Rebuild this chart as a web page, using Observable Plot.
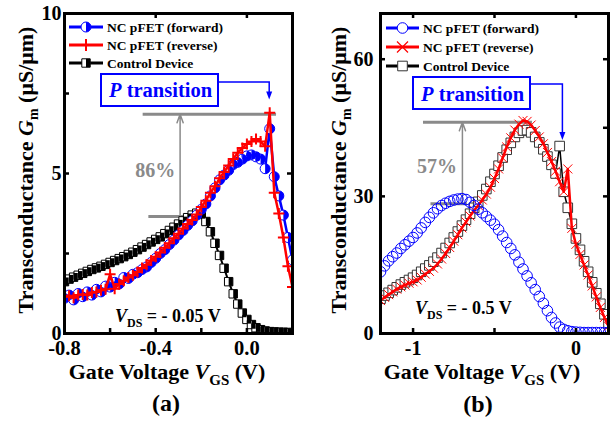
<!DOCTYPE html>
<html><head><meta charset="utf-8">
<script src="https://cdn.jsdelivr.net/npm/d3@7"></script>
<script src="https://cdn.jsdelivr.net/npm/@observablehq/plot@0.6"></script>
<style>
body{margin:0;background:#fff;}
#wrap{display:flex;width:616px;height:426px;}
#wrap svg{display:block;flex:none;}
</style></head><body><div id="wrap"></div>
<script>
// ---------- data: panel (a), VDS = -0.05 V ----------
const vA = [-0.80,-0.78,-0.76,-0.74,-0.72,-0.70,-0.68,-0.66,-0.64,-0.62,
  -0.60,-0.58,-0.56,-0.54,-0.52,-0.50,-0.48,-0.46,-0.44,-0.42,
  -0.40,-0.38,-0.36,-0.34,-0.32,-0.30,-0.28,-0.26,-0.24,-0.22,
  -0.20,-0.18,-0.16,-0.14,-0.12,-0.10,-0.08,-0.06,-0.04,-0.02,
  0.00,0.02,0.04,0.06,0.08,0.10,0.12,0.14,0.16,0.18,0.20];
const fwdA = [1.10,1.20,1.05,1.25,1.15,1.30,1.20,1.38,1.30,1.48,
  1.45,1.60,1.55,1.75,1.72,1.85,1.90,2.00,2.08,2.22,
  2.35,2.50,2.62,2.78,2.92,3.08,3.22,3.38,3.52,3.70,
  3.88,4.05,4.30,4.55,4.80,4.95,5.10,5.28,5.35,5.45,
  5.55,5.58,5.52,5.45,5.15,6.40,4.90,4.30,3.70,3.00,2.30];
const revA = [1.15,1.18,1.12,1.20,1.22,1.20,1.28,1.30,1.35,1.38,
  1.85,1.40,1.55,1.65,1.75,1.82,1.92,2.05,2.15,2.28,
  2.40,2.53,2.68,2.82,2.98,3.12,3.28,3.42,3.55,3.72,
  3.95,4.15,4.40,4.60,4.85,5.05,5.25,5.45,5.65,5.80,
  5.92,6.00,6.08,6.00,5.85,6.90,4.40,3.75,3.00,2.10,1.45];
const ctlA = [1.62,1.70,1.76,1.82,1.88,1.94,2.00,2.05,2.10,2.16,
  2.22,2.28,2.34,2.40,2.47,2.54,2.62,2.70,2.78,2.86,
  2.94,3.02,3.12,3.22,3.32,3.42,3.52,3.62,3.70,3.76,
  3.72,3.50,3.18,2.82,2.44,2.04,1.62,1.24,0.92,0.64,
  0.44,0.28,0.18,0.12,0.08,0.06,0.05,0.04,0.04,0.03,0.03];

// ---------- data: panel (b), VDS = -0.5 V ----------
const vB = [-1.2,-1.175,-1.15,-1.125,-1.1,-1.075,-1.05,-1.025,-1,-0.975,
  -0.95,-0.925,-0.9,-0.875,-0.85,-0.825,-0.8,-0.775,-0.75,-0.725,
  -0.7,-0.675,-0.65,-0.625,-0.6,-0.575,-0.55,-0.525,-0.5,-0.475,
  -0.45,-0.425,-0.4,-0.375,-0.35,-0.325,-0.3,-0.275,-0.25,-0.225,
  -0.2,-0.175,-0.15,-0.125,-0.1,-0.075,-0.05,-0.025,0,0.025,
  0.05,0.075,0.1,0.125,0.15,0.175,0.2];
const fwdB = [13.5,14.8,15.9,16.8,17.6,18.6,19.4,20.2,21.0,22.0,
  23.1,24.3,25.4,26.4,27.3,28.0,28.5,28.9,29.2,29.4,
  29.5,29.3,28.7,28.0,27.2,26.4,25.6,24.8,23.9,22.7,
  21.3,19.9,18.6,17.2,15.6,14.1,12.6,11.1,9.6,8.1,
  6.6,5.0,3.5,2.3,1.4,0.9,0.6,0.4,0.3,0.25,
  0.2,0.2,0.2,0.2,0.2,0.2,0.2];
const revB = [7.2,7.9,8.5,9.1,9.7,10.2,10.6,11.0,11.3,11.7,
  12.3,13.0,13.6,14.3,15.2,16.3,17.5,18.8,20.2,21.6,
  23.1,24.4,25.7,26.9,28.0,29.2,30.5,32.0,33.9,36.0,
  38.4,40.8,42.8,44.5,45.8,46.6,46.4,45.6,44.4,43.0,
  41.5,39.6,37.6,35.5,33.2,31.0,36.0,23.0,19.5,17.3,
  15.0,12.8,10.4,8.0,5.7,3.5,1.6];
const ctlB = [7.6,8.3,8.9,9.5,10.1,10.7,11.2,11.7,12.2,12.8,
  13.5,14.2,14.9,15.7,16.6,17.6,18.7,19.8,21.0,22.3,
  23.6,24.9,26.2,27.5,28.8,30.2,31.6,33.2,34.9,36.7,
  38.5,40.2,41.7,43.0,43.9,44.4,44.5,44.0,43.0,41.8,
  40.3,38.7,36.9,35.0,41.0,31.0,27.5,24.0,20.8,18.3,
  15.8,13.5,11.2,8.8,6.5,4.2,2.2];

// ---------- axes / labels ----------
const xDomA = [-0.8, 0.2], yDomA = [0, 10];
const xDomB = [-1.2, 0.2], yDomB = [0, 70];
const xTicksA = [-0.8, -0.4, 0.0], yTicksA = [0, 5, 10];
const xTicksB = [-1, 0], yTicksB = [0, 30, 60];
const xTickMarksA = [-0.6, -0.4, -0.2, 0.0], xTopMarksA = [-0.4, 0.0];
const yLeftMarksA = [2.5, 5, 7.5], yRightMarksA = [5];
const xTickMarksB = [-1, -0.5, 0], xTopMarksB = [-1, -0.5, 0];
const yLeftMarksB = [30, 60], yRightMarksB = [30, 45, 60];
const legendLabels = ["NC pFET (forward)", "NC pFET (reverse)", "Control Device"];
const annA = {top: 6.85, topX1: -0.455, topX2: 0.13, base: 3.66, baseX1: -0.43, baseX2: -0.25, arrowX: -0.293, label: "86%", pX: 0.10, pY: 7.3};
const annB = {top: 46.2, topX1: -0.936, topX2: -0.267, base: 28.4, baseX1: -0.89, baseX2: -0.666, arrowX: -0.697, label: "57%", pX: -0.08, pY: 42.2};

// ---------- styling ----------
const F = '"Liberation Serif","Times New Roman",serif';
const BLUE = "#0000ff", RED = "#ff0000", GRAY = "#8a8a8a";

const sqSym = h => ({draw(c){c.moveTo(-h,-h);c.lineTo(h,-h);c.lineTo(h,h);c.lineTo(-h,h);c.closePath();}});
const halfSqSym = h => ({draw(c){c.moveTo(0,-h);c.lineTo(h,-h);c.lineTo(h,h);c.lineTo(0,h);c.closePath();}});
const circSym = r => ({draw(c){c.moveTo(r,0);c.arc(0,0,r,0,2*Math.PI);c.closePath();}});
const halfCircSym = r => ({draw(c){c.moveTo(0,-r);c.arc(0,0,r,-Math.PI/2,Math.PI/2);c.closePath();}});
const plusSym = h => ({draw(c){c.moveTo(-h,0);c.lineTo(h,0);c.moveTo(0,-h);c.lineTo(0,h);}});
const timesSym = h => ({draw(c){c.moveTo(-h,-h);c.lineTo(h,h);c.moveTo(h,-h);c.lineTo(-h,h);}});

const table = (v, arr) => v.map((x, i) => ({v: x, g: arr[i]}));

function tickMarks(xb, xt, yl, yr) {
  const s = {stroke: "black", strokeWidth: 2.5};
  return [
    Plot.ruleX(xb, {...s, insetTop: 315}),
    Plot.ruleX(xt, {...s, insetBottom: 315}),
    Plot.ruleY(yl, {...s, insetRight: 223}),
    Plot.ruleY(yr, {...s, insetLeft: 223})
  ];
}
function annMarks(a) {
  return [
    Plot.ruleY([a], {y: "top", x1: "topX1", x2: "topX2", stroke: GRAY, strokeWidth: 3}),
    Plot.ruleY([a], {y: "base", x1: "baseX1", x2: "baseX2", stroke: GRAY, strokeWidth: 3}),
    Plot.arrow([a], {x1: "arrowX", x2: "arrowX", y1: "base", y2: "top", stroke: GRAY, strokeWidth: 1.5, headLength: 9, headAngle: 40})
  ];
}

function richText(sel, x, y, parts, o) {
  const t = sel.append("text").attr("x", x).attr("y", y)
    .attr("font-family", F).attr("font-weight", "bold")
    .attr("font-size", o.size).attr("text-anchor", o.anchor || "start")
    .attr("fill", o.fill || "black").style("white-space", "pre");
  if (o.rotate) t.attr("transform", `rotate(-90 ${x} ${y})`);
  let shift = 0;
  for (const p of parts) {
    const s = t.append("tspan").text(p.t);
    if (p.i) s.attr("font-style", "italic");
    const want = p.sub || 0;
    if (want !== shift) { s.attr("dy", want - shift); shift = want; }
    if (p.size) s.attr("font-size", p.size);
  }
  return t;
}

function legendEntry(g, x0, x1, y, tx, label, color, lw, syms) {
  g.append("line").attr("x1", x0).attr("x2", x1).attr("y1", y).attr("y2", y)
    .attr("stroke", color).attr("stroke-width", lw);
  const cx = (x0 + x1) / 2;
  for (const s of syms) {
    g.append("path").attr("d", d3.symbol(s.sym)()).attr("transform", `translate(${cx},${y})`)
      .attr("fill", s.fill).attr("stroke", s.stroke || "none").attr("stroke-width", s.sw || 1);
  }
  g.append("text").attr("x", tx).attr("y", y + 5).attr("font-family", F).attr("font-weight", "bold")
    .attr("text-anchor", "start").attr("fill", "black")
    .attr("font-size", 13.5).text(label);
}

function pTransition(g, bx0, by0, bx1, by1, tx, ty, lineY, ax, ay) {
  g.append("rect").attr("x", bx0).attr("y", by0).attr("width", bx1 - bx0).attr("height", by1 - by0)
    .attr("fill", "white").attr("stroke", BLUE).attr("stroke-width", 2);
  richText(g, tx, ty, [{t: "P", i: true}, {t: " transition"}], {size: 20.5, fill: BLUE});
  g.append("path").attr("d", `M${bx1},${lineY}H${ax}V${ay - 6}`).attr("fill", "none")
    .attr("stroke", BLUE).attr("stroke-width", 1.5);
  g.append("path").attr("d", `M${ax - 3},${ay - 8}L${ax + 3},${ay - 8}L${ax},${ay}Z`).attr("fill", BLUE);
}

// ---------- panel (a) ----------
const ctlDataA = table(vA, ctlA), fwdDataA = table(vA, fwdA), revDataA = table(vA, revA);
const plotA = Plot.plot({
  width: 308, height: 426, marginLeft: 64, marginRight: 16, marginTop: 13, marginBottom: 93,
  x: {domain: xDomA}, y: {domain: yDomA},
  style: {fontFamily: F, background: "white"},
  marks: [
    ...annMarks(annA),
    Plot.line(ctlDataA, {x: "v", y: "g", stroke: "black", strokeWidth: 2, clip: true}),
    Plot.dot(ctlDataA, {x: "v", y: "g", symbol: sqSym(4.2), fill: "white", stroke: "black", strokeWidth: 1, clip: true}),
    Plot.dot(ctlDataA, {x: "v", y: "g", symbol: halfSqSym(4.2), fill: "black", clip: true}),
    Plot.line(fwdDataA, {x: "v", y: "g", stroke: BLUE, strokeWidth: 2.5, clip: true}),
    Plot.dot(fwdDataA, {x: "v", y: "g", symbol: circSym(5), fill: "white", stroke: BLUE, strokeWidth: 1, clip: true}),
    Plot.dot(fwdDataA, {x: "v", y: "g", symbol: halfCircSym(5), fill: BLUE, clip: true}),
    Plot.line(revDataA, {x: "v", y: "g", stroke: RED, strokeWidth: 2.5, clip: true}),
    Plot.dot(revDataA, {x: "v", y: "g", symbol: plusSym(5.5), fill: "none", stroke: RED, strokeWidth: 2, clip: true}),
    ...tickMarks(xTickMarksA, xTopMarksA, yLeftMarksA, yRightMarksA),
    Plot.frame({stroke: "black", strokeWidth: 3}),
    Plot.axisX(xTicksA, {anchor: "bottom", tickSize: 0, tickPadding: 7, tickFormat: d => d.toFixed(1),
      fontSize: 20.5, fontWeight: "bold", fontFamily: F, fill: "black", label: null}),
    Plot.axisY(yTicksA, {anchor: "left", tickSize: 0, tickPadding: 3, tickFormat: d => String(d),
      fontSize: 20, fontWeight: "bold", fontFamily: F, fill: "black", label: null})
  ]
});
{
  const g = d3.select(plotA).append("g");
  const sx = plotA.scale("x"), sy = plotA.scale("y");
  richText(g, 33, 170, [{t: "Transconductance "}, {t: "G", i: true}, {t: "m", sub: 5, size: 14}, {t: " (μS/μm)"}], {size: 22, anchor: "middle", rotate: true});
  richText(g, 167, 379, [{t: "Gate Voltage "}, {t: "V", i: true}, {t: "GS", sub: 6, size: 15}, {t: " (V)"}], {size: 22, anchor: "middle"});
  richText(g, 166, 411, [{t: "(a)"}], {size: 24, anchor: "middle"});
  richText(g, 115, 322, [{t: "V", i: true}, {t: "DS", sub: 5, size: 12}, {t: " = - 0.05 V"}], {size: 18});
  richText(g, sx.apply(-0.4), 177, [{t: annA.label}], {size: 20, anchor: "middle", fill: GRAY});
  legendEntry(g, 69, 103, 27, 107, legendLabels[0], BLUE, 3, [
    {sym: circSym(5), fill: "white", stroke: BLUE}, {sym: halfCircSym(5), fill: BLUE}]);
  legendEntry(g, 69, 103, 45, 107, legendLabels[1], RED, 3, [
    {sym: plusSym(6), fill: "none", stroke: RED, sw: 2}]);
  legendEntry(g, 69, 103, 63, 107, legendLabels[2], "black", 3, [
    {sym: sqSym(4.2), fill: "white", stroke: "black"}, {sym: halfSqSym(4.2), fill: "black"}]);
  pTransition(g, 101, 74, 218, 106, 109, 97, 82, sx.apply(annA.pX), sy.apply(annA.pY));
}

// ---------- panel (b) ----------
const ctlDataB = table(vB, ctlB), fwdDataB = table(vB, fwdB), revDataB = table(vB, revB);
const plotB = Plot.plot({
  width: 308, height: 426, marginLeft: 72, marginRight: 8, marginTop: 13, marginBottom: 93,
  x: {domain: xDomB}, y: {domain: yDomB},
  style: {fontFamily: F, background: "white"},
  marks: [
    ...annMarks(annB),
    Plot.line(ctlDataB, {x: "v", y: "g", stroke: "black", strokeWidth: 1.5, clip: true}),
    Plot.dot(ctlDataB, {x: "v", y: "g", symbol: sqSym(4.8), fill: "white", stroke: "#333", strokeWidth: 1, clip: true}),
    Plot.line(revDataB, {x: "v", y: "g", stroke: RED, strokeWidth: 2.5, clip: true}),
    Plot.dot(revDataB, {x: "v", y: "g", symbol: timesSym(4.5), fill: "none", stroke: RED, strokeWidth: 1, clip: true}),
    Plot.dot(fwdDataB, {x: "v", y: "g", symbol: circSym(5.3), fill: "none", stroke: BLUE, strokeWidth: 1, clip: true}),
    ...tickMarks(xTickMarksB, xTopMarksB, yLeftMarksB, yRightMarksB),
    Plot.frame({stroke: "black", strokeWidth: 3}),
    Plot.axisX(xTicksB, {anchor: "bottom", tickSize: 0, tickPadding: 7, tickFormat: d => String(d),
      fontSize: 20, fontWeight: "bold", fontFamily: F, fill: "black", label: null}),
    Plot.axisY(yTicksB, {anchor: "left", tickSize: 0, tickPadding: 7, tickFormat: d => String(d),
      fontSize: 20, fontWeight: "bold", fontFamily: F, fill: "black", label: null})
  ]
});
{
  const g = d3.select(plotB).append("g");
  const sx = plotB.scale("x"), sy = plotB.scale("y");
  richText(g, 38, 170, [{t: "Transconductance "}, {t: "G", i: true}, {t: "m", sub: 5, size: 14}, {t: " (μS/μm)"}], {size: 22, anchor: "middle", rotate: true});
  richText(g, 174, 379, [{t: "Gate Voltage "}, {t: "V", i: true}, {t: "GS", sub: 6, size: 15}, {t: " (V)"}], {size: 22, anchor: "middle"});
  richText(g, 170, 412, [{t: "(b)"}], {size: 24, anchor: "middle"});
  richText(g, 107, 314, [{t: "V", i: true}, {t: "DS", sub: 5, size: 12}, {t: " = - 0.5 V"}], {size: 18});
  richText(g, sx.apply(-0.85), 173, [{t: annB.label}], {size: 20, anchor: "middle", fill: GRAY});
  legendEntry(g, 78, 111, 28, 115, legendLabels[0], BLUE, 3, [
    {sym: circSym(5.3), fill: "white", stroke: BLUE}]);
  legendEntry(g, 78, 111, 47, 115, legendLabels[1], RED, 3, [
    {sym: timesSym(5.5), fill: "none", stroke: RED, sw: 1.2}]);
  legendEntry(g, 78, 111, 66, 115, legendLabels[2], "black", 3, [
    {sym: sqSym(4.8), fill: "white", stroke: "#333"}]);
  pTransition(g, 105, 77, 222, 109, 113, 101, 84, sx.apply(annB.pX), sy.apply(annB.pY));
}

document.getElementById("wrap").append(plotA, plotB);
</script></body></html>
